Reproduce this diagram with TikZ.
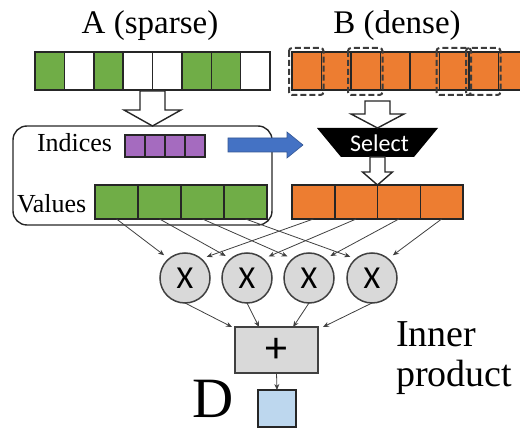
\documentclass[tikz,border=0pt]{standalone}
\usepackage{fontspec}
\setmainfont{Liberation Serif}
\newfontfamily\calfont{Carlito}
\usetikzlibrary{calc,arrows.meta}
\definecolor{cgreen}{HTML}{70AD47}
\definecolor{corange}{HTML}{ED7D31}
\definecolor{cpurple}{HTML}{A56BBF}
\definecolor{cblue}{HTML}{4472C4}
\definecolor{clblue}{HTML}{BDD7EE}
\definecolor{cgray}{HTML}{D9D9D9}
\definecolor{cline}{HTML}{262626}
\definecolor{cconn}{HTML}{404040}
\colorlet{W}{white}
\colorlet{G}{cgreen}
\tikzset{
  cell/.style={draw=cline, line width=1.5pt, inner sep=0pt, outer sep=0pt, anchor=north west},
  conn/.style={draw=cconn, line width=0.8pt, -{Stealth[length=6pt,width=5pt]}},
  hollow/.style={draw=cline, line width=1.4pt, fill=white, line join=miter},
  pics/hollowdown/.style n args={4}{code={%
    % #1 total length, #2 shaft half width, #3 head half width, #4 head length
    \draw[hollow] (-#2,-#1) -- (#2,-#1) -- (#2,-#4) -- (#3,-#4) -- (0,0)
      -- (-#3,-#4) -- (-#2,-#4) -- cycle;}},
  mult/.style={circle, draw=cconn, line width=1.5pt, fill=cgray, minimum size=50pt,
    inner sep=0pt, outer sep=0pt, font=\calfont\fontsize{32}{32}\selectfont},
  txt/.style={inner sep=0pt, outer sep=0pt, anchor=base},
  selbox/.style={draw=cline!90, line width=2pt, dash pattern=on 6pt off 3pt, rounded corners=3pt},
}
\begin{document}
\begin{tikzpicture}[x=1pt, y=-1pt]
\useasboundingbox (0,0) rectangle (520,430);
\clip (0,0) rectangle (520,430);

% titles
\node[txt, font=\fontsize{33}{33}\selectfont] (ta) at (150,34) {A (sparse)};
\node[txt, font=\fontsize{33}{33}\selectfont] (tb) at (397,34) {B (dense)};

% sparse vector A
\foreach \f [count=\i] in {G,W,G,W,W,G,G,W}
  \node[cell, fill=\f, minimum width=29.375pt, minimum height=38pt] (a\i) at ({35+(\i-1)*29.375},52) {};

% dense vector B with the selected entries marked
\foreach \i in {1,...,8}
  \node[cell, fill=corange, minimum width=29.5pt, minimum height=38pt] (b\i) at ({292+(\i-1)*29.5},52) {};
\foreach \i in {1,3,6,7}
  \draw[selbox] ($(b\i.north west)+(-3,-4)$) rectangle ($(b\i.south east)+(2,5)$);

% compressed format of A
\node[draw=cline, line width=1.4pt, rounded corners=14pt, minimum width=259pt, minimum height=99pt,
      inner sep=0pt, outer sep=0pt, anchor=north west] (ibox) at (13,126) {};
\foreach \i in {1,...,4}
  \node[cell, fill=cpurple, minimum width=20pt, minimum height=22pt] (p\i) at ({125+(\i-1)*20},135) {};
\foreach \i in {1,...,4}
  \node[cell, fill=cgreen, minimum width=43pt, minimum height=34pt] (g\i) at ({95+(\i-1)*43},185) {};
\node[txt, anchor=base west, font=\fontsize{26}{26}\selectfont] (lidx) at (37,152) {Indices};
\node[txt, anchor=base west, font=\fontsize{26}{26}\selectfont] (lval) at (17,213) {Values};

% selected entries of B
\foreach \i in {1,...,4}
  \node[cell, fill=corange, minimum width=42.75pt, minimum height=34pt] (o\i) at ({292+(\i-1)*42.75},185) {};

% select unit
\node[minimum width=121pt, minimum height=29pt, inner sep=0pt, outer sep=0pt] (sel) at (377.5,142.5) {};
\fill[black] (sel.north west) -- (sel.north east) -- ($(sel.south east)+(-24,0)$)
  -- ($(sel.south west)+(24,0)$) -- cycle;
\node[text=white, font=\calfont\fontsize{24}{24}\selectfont, inner sep=0pt] (seltxt)
  at ($(sel.center)+(2,1)$) {Select};

% hollow arrows
\pic at (a4.south east |- ibox.north) {hollowdown={35}{12.5}{28.5}{16}};
\pic at (sel.north) {hollowdown={27}{12.5}{26.5}{14}};
\pic at (sel.south |- o1.north) {hollowdown={28}{7.5}{15}{13}};

% indices feed the select unit
\coordinate (bt0) at (228,145);
\coordinate (bt1) at (303,145);
\filldraw[fill=cblue, draw=cblue!75!black, line width=0.6pt]
  ($(bt0)+(0,-7)$) -- ($(bt1)+(-16,-7)$) -- ($(bt1)+(-16,-13)$) -- (bt1)
  -- ($(bt1)+(-16,13)$) -- ($(bt1)+(-16,7)$) -- ($(bt0)+(0,7)$) -- cycle;

% multipliers
\foreach \x [count=\i] in {185,247,309,372}
  \node[mult] (m\i) at (\x,278) {X};
\foreach \i in {1,...,4} {
  \draw[conn, shorten >=6pt] (g\i.south) -- (m\i.130);
  \draw[conn, shorten >=6pt] (o\i.south) -- (m\i.50);
}

% adder
\node[draw=cconn, line width=1.5pt, fill=cgray, minimum width=83pt, minimum height=46pt,
      inner sep=0pt, outer sep=0pt, font=\calfont\fontsize{44}{44}\selectfont] (plus) at (276.5,350) {+};
\draw[conn] (m1.south) -- ($(plus.north west)+(-3,0)$);
\draw[conn] (m2.south) -- ($(plus.north west)!0.29!(plus.north east)$);
\draw[conn] (m3.south) -- ($(plus.north west)!0.7!(plus.north east)$);
\draw[conn] (m4.south) -- ($(plus.north east)+(5,0)$);

% result
\node[draw=cline, line width=1.5pt, fill=clblue, minimum width=38pt, minimum height=37pt,
      inner sep=0pt, outer sep=0pt, anchor=north west] (dbox) at (258,390) {};
\draw[conn] (plus.south) -- (dbox.north);
\node[txt, anchor=base west, font=\fontsize{57}{57}\selectfont] (dlab) at (192,418) {D};
\node[txt, anchor=base west, font=\fontsize{38}{38}\selectfont] (inner) at (396,347) {Inner};
\node[txt, anchor=base west, font=\fontsize{38}{38}\selectfont] (prod) at (396,387) {product};
\end{tikzpicture}
\end{document}
